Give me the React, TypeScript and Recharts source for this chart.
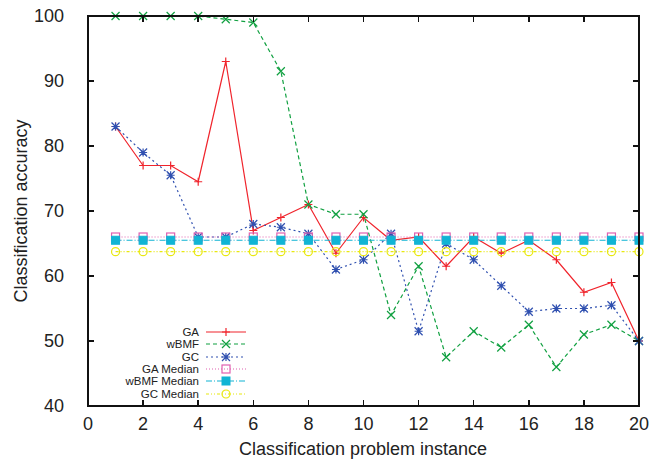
import { LineChart, Line, XAxis, YAxis } from "recharts";

const instances = [1, 2, 3, 4, 5, 6, 7, 8, 9, 10, 11, 12, 13, 14, 15, 16, 17, 18, 19, 20];
const gaValues = [83, 77, 77, 74.5, 93, 67, 69, 71, 63.5, 69, 65.5, 66, 61.5, 66, 63.5, 65.5, 62.5, 57.5, 59, 50];
const wbmfValues = [100, 100, 100, 100, 99.5, 99, 91.5, 71, 69.5, 69.5, 54, 61.5, 47.5, 51.5, 49, 52.5, 46, 51, 52.5, 50];
const gcValues = [83, 79, 75.5, 66, 66, 68, 67.5, 66.5, 61, 62.5, 66.5, 51.5, 65, 62.5, 58.5, 54.5, 55, 55, 55.5, 50];
const gaMedianValues = [66, 66, 66, 66, 66, 66, 66, 66, 66, 66, 66, 66, 66, 66, 66, 66, 66, 66, 66, 66];
const wbmfMedianValues = [65.5, 65.5, 65.5, 65.5, 65.5, 65.5, 65.5, 65.5, 65.5, 65.5, 65.5, 65.5, 65.5, 65.5, 65.5, 65.5, 65.5, 65.5, 65.5, 65.5];
const gcMedianValues = [63.75, 63.75, 63.75, 63.75, 63.75, 63.75, 63.75, 63.75, 63.75, 63.75, 63.75, 63.75, 63.75, 63.75, 63.75, 63.75, 63.75, 63.75, 63.75, 63.75];

const xTicks = [0, 2, 4, 6, 8, 10, 12, 14, 16, 18, 20];
const yTicks = [40, 50, 60, 70, 80, 90, 100];

const data = instances.map((x, i) => ({
    x,
    ga: gaValues[i],
    wbmf: wbmfValues[i],
    gc: gcValues[i],
    gaMed: gaMedianValues[i],
    wbmfMed: wbmfMedianValues[i],
    gcMed: gcMedianValues[i],
}));

const FONT = "'Liberation Sans', Arial, sans-serif";
const TEXT = "#222";
const W = 652;
const H = 465;
const MARGIN = { top: 16, right: 13, bottom: 19, left: 0 };
const Y_AXIS_W = 88;
const X_AXIS_H = 40;
const X_MIN = 0;
const X_MAX = 20;
const Y_MIN = 40;
const Y_MAX = 100;
const TICK_LEN = 6;

// plot box derived from the chart margins and axis sizes
const plot = {
    left: MARGIN.left + Y_AXIS_W,
    top: MARGIN.top,
    width: W - MARGIN.left - Y_AXIS_W - MARGIN.right,
    height: H - MARGIN.top - MARGIN.bottom - X_AXIS_H,
};
const xPos = (v: number) => plot.left + ((v - X_MIN) / (X_MAX - X_MIN)) * plot.width;
const yPos = (v: number) => plot.top + ((Y_MAX - v) / (Y_MAX - Y_MIN)) * plot.height;

type Shape = "plus" | "cross" | "star" | "square" | "fsquare" | "circle";

const series: { key: string; name: string; color: string; dash?: string; shape: Shape }[] = [
    { key: "ga", name: "GA", color: "#f0242c", shape: "plus" },
    { key: "wbmf", name: "wBMF", color: "#10a040", dash: "4 3", shape: "cross" },
    { key: "gc", name: "GC", color: "#3050b0", dash: "2 3", shape: "star" },
    { key: "gaMed", name: "GA Median", color: "#e060b0", dash: "1 2", shape: "square" },
    { key: "wbmfMed", name: "wBMF Median", color: "#10b4d4", dash: "6 2 1 2", shape: "fsquare" },
    { key: "gcMed", name: "GC Median", color: "#e8e810", dash: "3 2 1 2 1 2", shape: "circle" },
];

function Marker({ cx, cy, shape, color }: { cx: number; cy: number; shape: Shape; color: string }) {
    const s = 4;
    if (shape === "plus") {
        return <path d={`M${cx - s},${cy}H${cx + s}M${cx},${cy - s}V${cy + s}`} stroke={color} strokeWidth={1.2} />;
    }
    if (shape === "cross") {
        return <path d={`M${cx - s},${cy - s}L${cx + s},${cy + s}M${cx - s},${cy + s}L${cx + s},${cy - s}`} stroke={color} strokeWidth={1.2} />;
    }
    if (shape === "star") {
        return (
            <path
                d={`M${cx - s},${cy}H${cx + s}M${cx},${cy - s}V${cy + s}M${cx - s},${cy - s}L${cx + s},${cy + s}M${cx - s},${cy + s}L${cx + s},${cy - s}`}
                stroke={color}
                strokeWidth={1.2}
            />
        );
    }
    if (shape === "square") {
        return <rect x={cx - s} y={cy - s} width={2 * s} height={2 * s} fill="none" stroke={color} strokeWidth={1.2} />;
    }
    if (shape === "fsquare") {
        return <rect x={cx - s} y={cy - s} width={2 * s} height={2 * s} fill={color} stroke={color} />;
    }
    return <circle cx={cx} cy={cy} r={s} fill="none" stroke={color} strokeWidth={1.2} />;
}

const makeDot = (shape: Shape, color: string) => (props: any) => {
    if (props.cx == null || props.cy == null) return <g key={props.key} />;
    return (
        <g key={props.key}>
            <Marker cx={props.cx} cy={props.cy} shape={shape} color={color} />
        </g>
    );
};

const BottomTick = (props: any) => {
    const { x, y, payload } = props;
    return (
        <text x={x} y={y + 16} textAnchor="middle" fontSize={18} fill={TEXT} fontFamily={FONT}>
            {payload.value}
        </text>
    );
};

const LeftTick = (props: any) => {
    const { x, y, payload } = props;
    return (
        <text x={x - 16} y={y + 6} textAnchor="end" fontSize={18} fill={TEXT} fontFamily={FONT}>
            {payload.value}
        </text>
    );
};

const bar = (left: number, top: number, width: number, height: number, key: string) => (
    <div key={key} style={{ position: "absolute", left, top, width, height, background: "#111" }} />
);

// gnuplot-style border with inward ticks on all four sides, drawn as plain boxes
const Frame = () => {
    const right = plot.left + plot.width;
    const bottom = plot.top + plot.height;
    return (
        <div style={{ position: "absolute", left: 0, top: 0, width: W, height: H, pointerEvents: "none" }}>
            {bar(plot.left - 1, plot.top - 1, plot.width + 2, 2, "top")}
            {bar(plot.left - 1, bottom - 1, plot.width + 2, 2, "bottom")}
            {bar(plot.left - 1, plot.top - 1, 2, plot.height + 2, "left")}
            {bar(right - 1, plot.top - 1, 2, plot.height + 2, "right")}
            {xTicks.map((t) => bar(xPos(t) - 0.75, bottom - TICK_LEN, 1.5, TICK_LEN, `xb-${t}`))}
            {xTicks.map((t) => bar(xPos(t) - 0.75, plot.top, 1.5, TICK_LEN, `xt-${t}`))}
            {yTicks.map((t) => bar(plot.left, yPos(t) - 0.75, TICK_LEN, 1.5, `yl-${t}`))}
            {yTicks.map((t) => bar(right - TICK_LEN, yPos(t) - 0.75, TICK_LEN, 1.5, `yr-${t}`))}
        </div>
    );
};

const LegendBox = () => (
    <div style={{ position: "absolute", left: 100, top: 326, fontFamily: FONT, fontSize: 11.5, color: TEXT }}>
        {series.map((s) => (
            <div key={s.key} style={{ display: "flex", alignItems: "center", height: 12.3 }}>
                <span style={{ width: 99, textAlign: "right", lineHeight: "12px", whiteSpace: "nowrap" }}>{s.name}</span>
                <svg width={44} height={12} style={{ marginLeft: 5 }}>
                    <line x1={2} y1={6} x2={42} y2={6} stroke={s.color} strokeWidth={1.2} strokeDasharray={s.dash} />
                    <Marker cx={22} cy={6} shape={s.shape} color={s.color} />
                </svg>
            </div>
        ))}
    </div>
);

export default function App() {
    return (
        <div style={{ position: "absolute", left: 0, top: 0, width: W, height: H, background: "#fff" }}>
            <LineChart width={W} height={H} data={data} margin={MARGIN}>
                <XAxis
                    dataKey="x"
                    type="number"
                    domain={[X_MIN, X_MAX]}
                    ticks={xTicks}
                    height={X_AXIS_H}
                    tickLine={false}
                    axisLine={false}
                    tick={<BottomTick />}
                    interval={0}
                />
                <YAxis
                    type="number"
                    domain={[Y_MIN, Y_MAX]}
                    ticks={yTicks}
                    width={Y_AXIS_W}
                    tickLine={false}
                    axisLine={false}
                    tick={<LeftTick />}
                    interval={0}
                    label={{
                        value: "Classification accuracy",
                        angle: -90,
                        position: "insideLeft",
                        offset: 0,
                        dx: 21,
                        style: { fontSize: 18, fill: TEXT, fontFamily: FONT, textAnchor: "middle" },
                    }}
                />
                {series.map((s) => (
                    <Line
                        key={s.key}
                        dataKey={s.key}
                        name={s.name}
                        stroke={s.color}
                        strokeWidth={1.2}
                        strokeDasharray={s.dash}
                        dot={makeDot(s.shape, s.color)}
                        activeDot={false}
                        isAnimationActive={false}
                    />
                ))}
                <text x={363} y={455} textAnchor="middle" fontSize={18} fill={TEXT} fontFamily={FONT}>
                    Classification problem instance
                </text>
            </LineChart>
            <Frame />
            <LegendBox />
        </div>
    );
}
